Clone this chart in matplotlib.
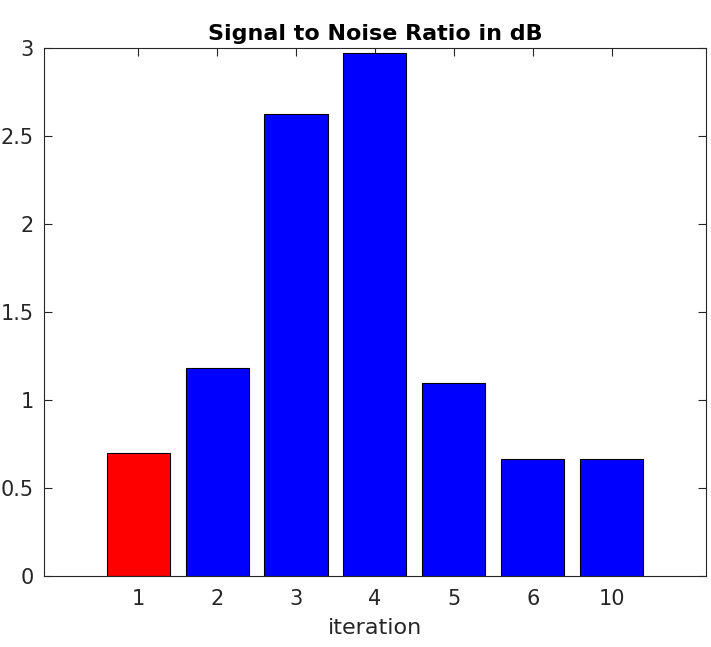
import numpy as np
import matplotlib
matplotlib.use("Agg")
import matplotlib.pyplot as plt

# Values
iterations = ["1", "2", "3", "4", "5", "6", "10"]
snr_db = [0.70, 1.185, 2.625, 2.975, 1.10, 0.665, 0.665]
bar_colors = ["#ff0000"] + ["#0000ff"] * 6
y_ticks = [0, 0.5, 1, 1.5, 2, 2.5, 3]
y_tick_labels = ["0", "0.5", "1", "1.5", "2", "2.5", "3"]

text_color = "#262626"
plt.rcParams["font.family"] = "DejaVu Sans"

fig = plt.figure(figsize=(7.11, 6.47), dpi=100)
ax = fig.add_axes([0.0612, 0.1097, 0.9322, 0.8156])

pos = np.arange(1, len(iterations) + 1)
ax.bar(pos, snr_db, width=0.8, color=bar_colors, edgecolor="black", linewidth=0.8, zorder=2)

ax.set_xlim(-0.2, 8.2)
ax.set_ylim(0, 3)
ax.set_xticks(pos)
ax.set_xticklabels(iterations)
ax.set_yticks(y_ticks)
ax.set_yticklabels(y_tick_labels)

ax.tick_params(direction="in", top=True, right=True, length=6, width=0.8,
               colors=text_color, labelsize=15)
ax.tick_params(axis="x", pad=9)
ax.tick_params(axis="y", pad=7)
for s in ax.spines.values():
    s.set_color(text_color)
    s.set_linewidth(0.8)

ax.set_xlabel("iteration", fontsize=16, color=text_color, labelpad=7)
ax.set_title("Signal to Noise Ratio in dB", fontsize=16, fontweight="bold", color="black", pad=6)

fig.savefig("out.png", dpi=100)
